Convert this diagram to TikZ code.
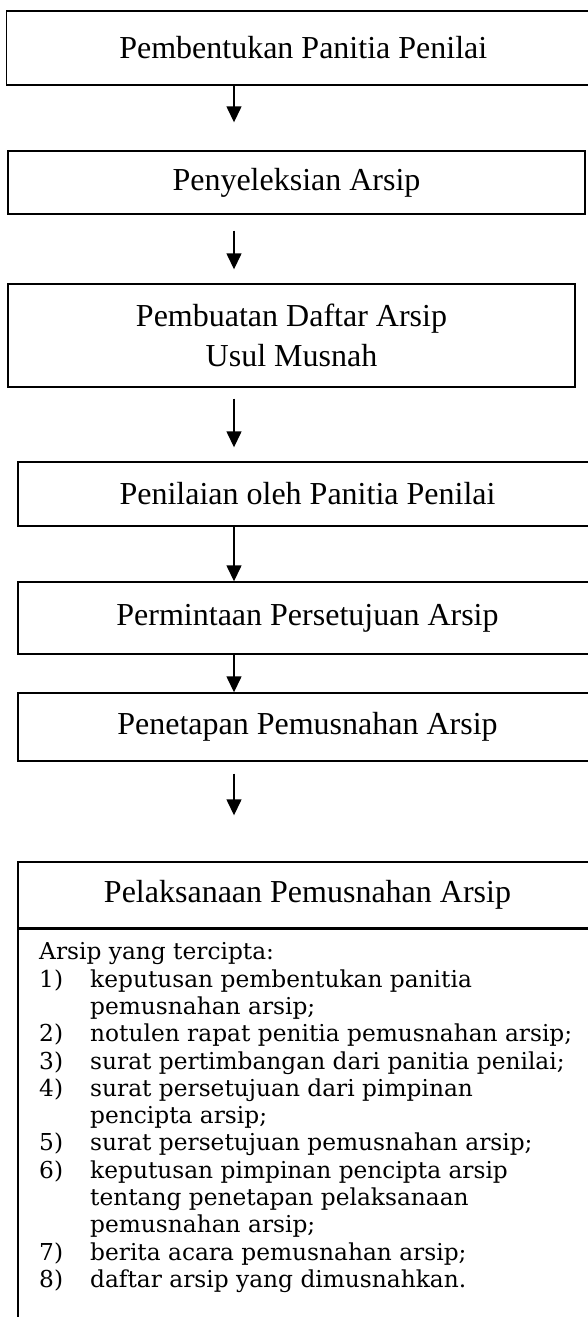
\documentclass[tikz,border=0pt]{standalone}
\usepackage{fontspec}
\setmainfont{Liberation Serif}
\newfontfamily\listfont{DejaVu Serif}
\usetikzlibrary{arrows.meta}
\tikzset{
  stepbox/.style={draw=black, line width=1.4pt, inner sep=0pt, align=center,
    font={\fontsize{32}{40}\selectfont}},
  arr/.style={line width=1.4pt, -{Triangle[width=15pt,length=16pt]}}
}
\begin{document}
\begin{tikzpicture}[x=1pt,y=-1pt]
\useasboundingbox (0,0) rectangle (588,1317);
\fill[white] (0,0) rectangle (588,1317);
\node[stepbox, minimum width=593.5pt, minimum height=74pt] (b1) at (303.25,48) {Pembentukan Panitia Penilai};
\node[stepbox, minimum width=577pt, minimum height=63pt] (b2) at (296.5,182.5) {Penyeleksian Arsip};
\node[stepbox, minimum width=567pt, minimum height=103pt] (b3) at (291.5,335.5) {Pembuatan Daftar Arsip\\Usul Musnah};
\node[stepbox, minimum width=579pt, minimum height=64pt] (b4) at (307.5,494) {Penilaian oleh Panitia Penilai};
\node[stepbox, minimum width=579pt, minimum height=72pt] (b5) at (307.5,618) {Permintaan Persetujuan Arsip};
\node[stepbox, minimum width=579pt, minimum height=68pt] (b6) at (307.5,727) {Penetapan Pemusnahan Arsip};
\node[stepbox, minimum width=579pt, minimum height=66pt] (b7) at (307.5,895) {Pelaksanaan Pemusnahan Arsip};
\node[stepbox, minimum width=579pt, minimum height=420pt, anchor=north] (b7b) at (b7.south) {};
\node[anchor=north west, inner sep=0pt, align=left,
  font={\listfont\fontsize{23.3}{27.3}\selectfont}] (lst) at (39,942.5) {%
Arsip yang tercipta:\\
\makebox[51pt][l]{1)}keputusan pembentukan panitia\\
\hspace*{51pt}pemusnahan arsip;\\
\makebox[51pt][l]{2)}notulen rapat penitia pemusnahan arsip;\\
\makebox[51pt][l]{3)}surat pertimbangan dari panitia penilai;\\
\makebox[51pt][l]{4)}surat persetujuan dari pimpinan\\
\hspace*{51pt}pencipta arsip;\\
\makebox[51pt][l]{5)}surat persetujuan pemusnahan arsip;\\
\makebox[51pt][l]{6)}keputusan pimpinan pencipta arsip\\
\hspace*{51pt}tentang penetapan pelaksanaan\\
\hspace*{51pt}pemusnahan arsip;\\
\makebox[51pt][l]{7)}berita acara pemusnahan arsip;\\
\makebox[51pt][l]{8)}daftar arsip yang dimusnahkan.};
\coordinate (ax) at (234,0);
\draw[arr, shorten >=28pt] (b1.south -| ax) -- (b2.north -| ax);
\draw[arr, shorten <=16pt, shorten >=14pt] (b2.south -| ax) -- (b3.north -| ax);
\draw[arr, shorten <=11pt, shorten >=14pt] (b3.south -| ax) -- (b4.north -| ax);
\draw[arr] (b4.south -| ax) -- (b5.north -| ax);
\draw[arr] (b5.south -| ax) -- (b6.north -| ax);
\draw[arr, shorten <=12pt, shorten >=46pt] (b6.south -| ax) -- (b7.north -| ax);
\end{tikzpicture}
\end{document}
